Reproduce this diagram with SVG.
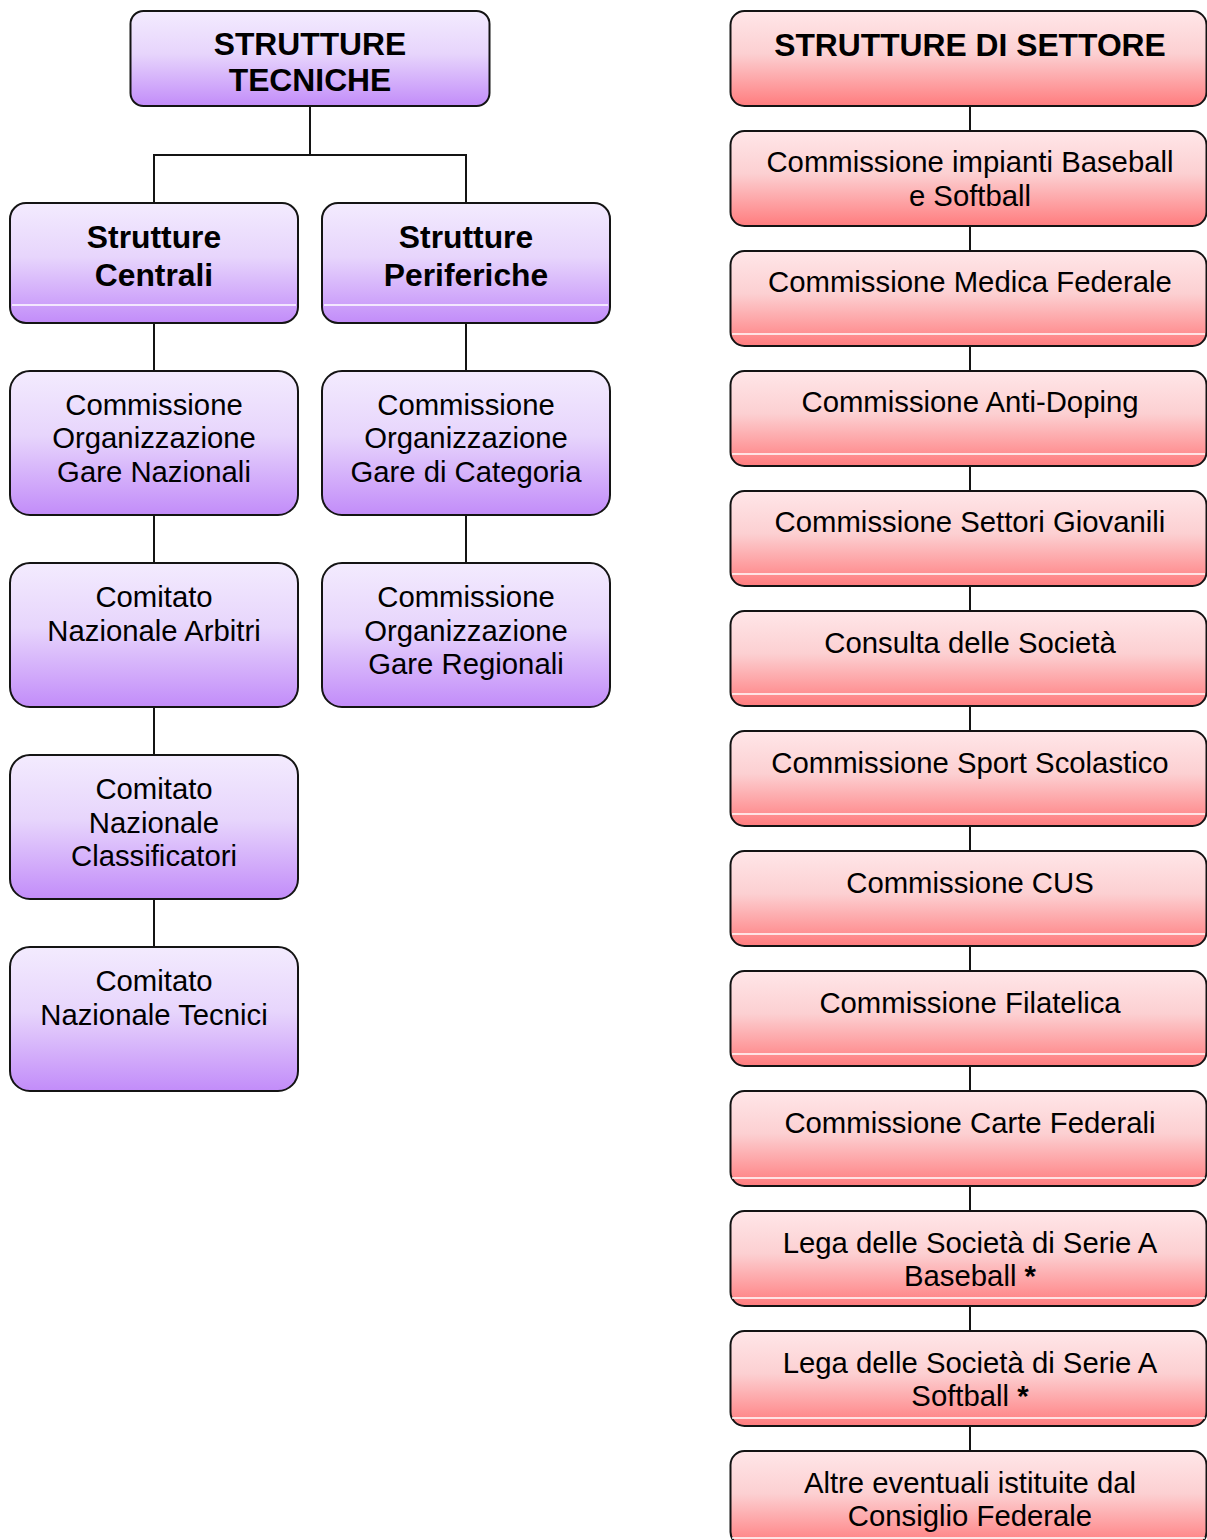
<svg xmlns="http://www.w3.org/2000/svg" width="1207" height="1540" viewBox="0 0 1207 1540">
<defs>
<linearGradient id="gp" x1="0" y1="0" x2="0" y2="1">
<stop offset="0" stop-color="#f3ebfe"/>
<stop offset="0.45" stop-color="#e7d5fc"/>
<stop offset="1" stop-color="#c28cf9"/>
</linearGradient>
<linearGradient id="gr" x1="0" y1="0" x2="0" y2="1">
<stop offset="0" stop-color="#ffe6e8"/>
<stop offset="0.45" stop-color="#fcd0d2"/>
<stop offset="1" stop-color="#ff7c7e"/>
</linearGradient>
<style>
.p{fill:url(#gp);stroke:#141414;stroke-width:2}
.r{fill:url(#gr);stroke:#141414;stroke-width:2}
.hl{stroke:#ffffff;stroke-width:1.5}
.c{fill:none;stroke:#141414;stroke-width:2}
text{font-family:"Liberation Sans",Arial,sans-serif;fill:#000;text-anchor:middle}
.b{font-size:31.8px;font-weight:bold}
.t{font-size:29.3px}
</style>
</defs>
<g id="connectors">
<path class="c" d="M310 106V155M154 203V155H466V203"/>
<path class="c" d="M154 323V371M154 515V563M154 707V755M154 899V947"/>
<path class="c" d="M466 323V371M466 515V563"/>
<path class="c" d="M970 106V131M970 226V251M970 346V371M970 466V491M970 586V611M970 706V731M970 826V851M970 946V971M970 1066V1091M970 1186V1211M970 1306V1331M970 1426V1451"/>
</g>
<g id="strutture-tecniche">
<rect class="p" x="130.5" y="11" width="359" height="95" rx="13"/>
<text class="b" x="310" y="55">STRUTTURE</text>
<text class="b" x="310" y="91">TECNICHE</text>
</g>
<g id="strutture-centrali">
<rect class="p" x="10" y="203" width="288" height="120" rx="16"/>
<line class="hl" x1="12" y1="305" x2="296" y2="305"/>
<text class="b" x="154" y="248">Strutture</text>
<text class="b" x="154" y="286">Centrali</text>
</g>
<g id="strutture-periferiche">
<rect class="p" x="322" y="203" width="288" height="120" rx="16"/>
<line class="hl" x1="324" y1="305" x2="608" y2="305"/>
<text class="b" x="466" y="248">Strutture</text>
<text class="b" x="466" y="286">Periferiche</text>
</g>
<g id="gare-nazionali">
<rect class="p" x="10" y="371" width="288" height="144" rx="20"/>
<text class="t" x="154" y="415">Commissione</text>
<text class="t" x="154" y="448">Organizzazione</text>
<text class="t" x="154" y="482">Gare Nazionali</text>
</g>
<g id="gare-categoria">
<rect class="p" x="322" y="371" width="288" height="144" rx="20"/>
<text class="t" x="466" y="415">Commissione</text>
<text class="t" x="466" y="448">Organizzazione</text>
<text class="t" x="466" y="482">Gare di Categoria</text>
</g>
<g id="arbitri">
<rect class="p" x="10" y="563" width="288" height="144" rx="20"/>
<text class="t" x="154" y="607">Comitato</text>
<text class="t" x="154" y="641">Nazionale Arbitri</text>
</g>
<g id="gare-regionali">
<rect class="p" x="322" y="563" width="288" height="144" rx="20"/>
<text class="t" x="466" y="607">Commissione</text>
<text class="t" x="466" y="641">Organizzazione</text>
<text class="t" x="466" y="674">Gare Regionali</text>
</g>
<g id="classificatori">
<rect class="p" x="10" y="755" width="288" height="144" rx="20"/>
<text class="t" x="154" y="799">Comitato</text>
<text class="t" x="154" y="833">Nazionale</text>
<text class="t" x="154" y="866">Classificatori</text>
</g>
<g id="tecnici">
<rect class="p" x="10" y="947" width="288" height="144" rx="20"/>
<text class="t" x="154" y="991">Comitato</text>
<text class="t" x="154" y="1025">Nazionale Tecnici</text>
</g>
<g id="strutture-settore">
<rect class="r" x="730.5" y="11" width="476" height="95" rx="14"/>
<text class="b" x="970" y="56">STRUTTURE DI SETTORE</text>
</g>
<g id="impianti">
<rect class="r" x="730.5" y="131" width="476" height="95" rx="14"/>
<text class="t" x="970" y="172">Commissione impianti Baseball</text>
<text class="t" x="970" y="206">e Softball</text>
</g>
<g id="medica">
<rect class="r" x="730.5" y="251" width="476" height="95" rx="14"/>
<line class="hl" x1="732" y1="334" x2="1205" y2="334"/>
<text class="t" x="970" y="292">Commissione Medica Federale</text>
</g>
<g id="antidoping">
<rect class="r" x="730.5" y="371" width="476" height="95" rx="14"/>
<line class="hl" x1="732" y1="454" x2="1205" y2="454"/>
<text class="t" x="970" y="412">Commissione Anti-Doping</text>
</g>
<g id="giovanili">
<rect class="r" x="730.5" y="491" width="476" height="95" rx="14"/>
<line class="hl" x1="732" y1="574" x2="1205" y2="574"/>
<text class="t" x="970" y="532">Commissione Settori Giovanili</text>
</g>
<g id="consulta">
<rect class="r" x="730.5" y="611" width="476" height="95" rx="14"/>
<line class="hl" x1="732" y1="694" x2="1205" y2="694"/>
<text class="t" x="970" y="653">Consulta delle Società</text>
</g>
<g id="scolastico">
<rect class="r" x="730.5" y="731" width="476" height="95" rx="14"/>
<line class="hl" x1="732" y1="814" x2="1205" y2="814"/>
<text class="t" x="970" y="773">Commissione Sport Scolastico</text>
</g>
<g id="cus">
<rect class="r" x="730.5" y="851" width="476" height="95" rx="14"/>
<line class="hl" x1="732" y1="934" x2="1205" y2="934"/>
<text class="t" x="970" y="893">Commissione CUS</text>
</g>
<g id="filatelica">
<rect class="r" x="730.5" y="971" width="476" height="95" rx="14"/>
<line class="hl" x1="732" y1="1054" x2="1205" y2="1054"/>
<text class="t" x="970" y="1013">Commissione Filatelica</text>
</g>
<g id="carte">
<rect class="r" x="730.5" y="1091" width="476" height="95" rx="14"/>
<line class="hl" x1="732" y1="1178" x2="1205" y2="1178"/>
<text class="t" x="970" y="1133">Commissione Carte Federali</text>
</g>
<g id="lega-baseball">
<rect class="r" x="730.5" y="1211" width="476" height="95" rx="14"/>
<line class="hl" x1="732" y1="1298" x2="1205" y2="1298"/>
<text class="t" x="970" y="1253">Lega delle Società di Serie A</text>
<text class="t" x="970" y="1286">Baseball <tspan font-weight="bold">*</tspan></text>
</g>
<g id="lega-softball">
<rect class="r" x="730.5" y="1331" width="476" height="95" rx="14"/>
<line class="hl" x1="732" y1="1418" x2="1205" y2="1418"/>
<text class="t" x="970" y="1373">Lega delle Società di Serie A</text>
<text class="t" x="970" y="1406">Softball <tspan font-weight="bold">*</tspan></text>
</g>
<g id="altre">
<rect class="r" x="730.5" y="1451" width="476" height="95" rx="14"/>
<line class="hl" x1="732" y1="1538" x2="1205" y2="1538"/>
<text class="t" x="970" y="1493">Altre eventuali istituite dal</text>
<text class="t" x="970" y="1526">Consiglio Federale</text>
</g>
</svg>
